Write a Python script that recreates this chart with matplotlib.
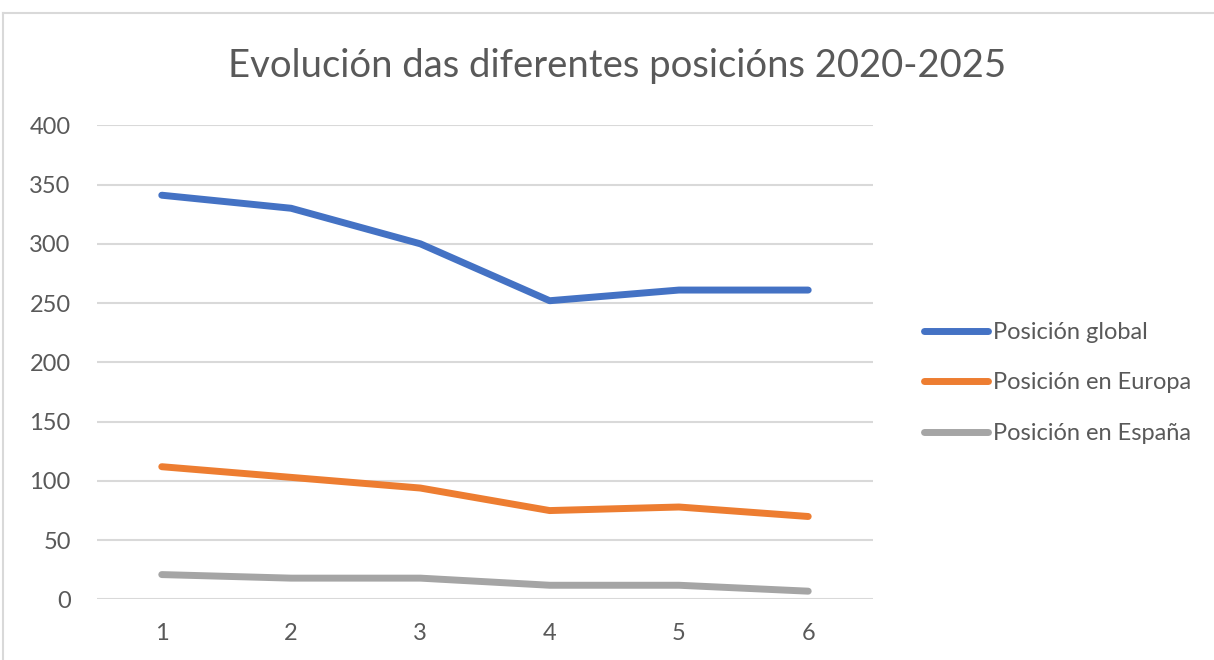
import matplotlib.pyplot as plt
from matplotlib.lines import Line2D

# Data
anos = [1, 2, 3, 4, 5, 6]
pos_global = [341, 330, 300, 252, 261, 261]
pos_europa = [112, 103, 94, 75, 78, 70]
pos_espana = [21, 18, 18, 12, 12, 7]
series_names = ['Posición global', 'Posición en Europa', 'Posición en España']
colors = ['#4472C4', '#ED7D31', '#A5A5A5']

plt.rcParams['font.family'] = ['Lato', 'DejaVu Sans']
text_color = '#595959'

fig = plt.figure(figsize=(12.14, 6.6), dpi=100)
ax = fig.add_axes([0.08, 0.0917, 0.639, 0.7185])

for vals, name, c in zip([pos_global, pos_europa, pos_espana], series_names, colors):
    ax.plot(anos, vals, color=c, linewidth=5, solid_capstyle='round',
            solid_joinstyle='round', label=name)

ax.set_xlim(0.5, 6.5)
ax.set_ylim(0, 400)
ax.set_yticks(range(0, 401, 50))
ax.set_xticks(anos)
ax.grid(axis='y', color='#D9D9D9', linewidth=1.5)
ax.set_axisbelow(True)
for s in ax.spines.values():
    s.set_visible(False)
ax.tick_params(length=0, labelsize=17, colors=text_color)
ax.tick_params(axis='x', pad=17)
ax.tick_params(axis='y', pad=19)

fig.text(0.508, 0.9, 'Evolución das diferentes posicións 2020-2025',
         ha='center', va='center', fontsize=27.5, color=text_color)

leg = fig.legend(loc='center left', bbox_to_anchor=(0.744, 0.42), frameon=False,
                 fontsize=17, labelcolor=text_color, handlelength=2.7,
                 handletextpad=0.2, labelspacing=1.25)

# chart frame (top and left visible)
fig.add_artist(Line2D([0.0025, 1.0], [0.98, 0.98], color='#D9D9D9', linewidth=1.5))
fig.add_artist(Line2D([0.0025, 0.0025], [0.0, 0.98], color='#D9D9D9', linewidth=1.5))

fig.savefig('out.png', dpi=100)
